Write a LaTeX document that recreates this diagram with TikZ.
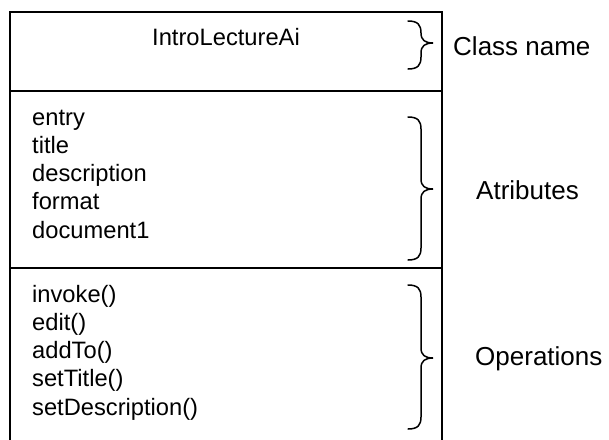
\documentclass[tikz,border=0pt]{standalone}
\usepackage{fontspec}
\setmainfont{Liberation Sans}
\begin{document}
\begin{tikzpicture}[x=1pt,y=-1pt,
  frame/.style={line width=1.6pt, line cap=rect},
  brace/.style={line width=1.5pt, line cap=round},
  txt/.style={inner sep=0pt, anchor=base west, font=\fontsize{23.7}{28}\selectfont},
  ctxt/.style={inner sep=0pt, anchor=base, font=\fontsize{23.7}{28}\selectfont},
  label/.style={inner sep=0pt, anchor=base west, font=\fontsize{26}{30}\selectfont}]
\useasboundingbox (0,0) rectangle (609,439);

% class box, open at the bottom edge of the page
\draw[frame] (10,445) -- (10,12) -- (442,12) -- (442,445);
\draw[frame] (10,91) -- (442,91);
\draw[frame] (10,268) -- (442,268);

% class name
\node[ctxt] (cname) at (226,45) {IntroLectureAi};

% attributes
\foreach \t [count=\i] in {entry,title,description,format,document1}
  \node[txt] (attr\i) at (32,{125+(\i-1)*28.3}) {\t};

% operations
\foreach \t [count=\i] in {invoke(),edit(),addTo(),setTitle(),setDescription()}
  \node[txt] (op\i) at (32,{302+(\i-1)*28.3}) {\t};

% curly braces: top, tip, bottom
\foreach \tp/\md/\bt in {21/43/69, 117/189/260, 285/358/429}
  \draw[brace] (408,\tp) .. controls (418,\tp) and (421,\tp+4) .. (421,\tp+12)
    -- (421,\md-10) .. controls (421,\md-3) and (425,\md) .. (433,\md)
    .. controls (425,\md) and (421,\md+3) .. (421,\md+10)
    -- (421,\bt-12) .. controls (421,\bt-4) and (418,\bt) .. (408,\bt);

% section labels
\node[label] (lclass) at (453,55) {Class name};
\node[label] (lattr) at (476,199) {Atributes};
\node[label] (lops) at (475,365) {Operations};
\end{tikzpicture}
\end{document}
